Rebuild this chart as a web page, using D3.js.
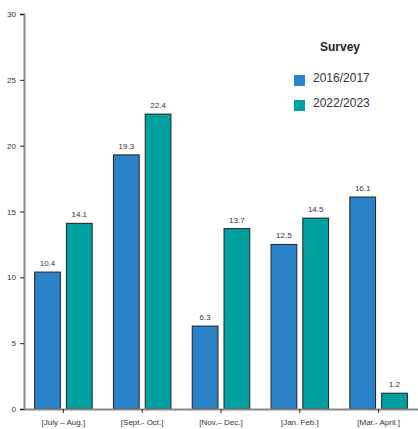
<!DOCTYPE html>
<html><head><meta charset="utf-8">
<script src="https://cdn.jsdelivr.net/npm/d3@7"></script>
<style>body{margin:0;background:#fff}svg{display:block}</style>
</head><body><div id="chart"></div>
<script>
const categories = ["[July – Aug.]", "[Sept.- Oct.]", "[Nov.– Dec.]", "[Jan. Feb.]", "[Mar.- April.]"];
const seriesNames = ["2016/2017", "2022/2023"];
const values2016 = [10.4, 19.3, 6.3, 12.5, 16.1];
const values2023 = [14.1, 22.4, 13.7, 14.5, 1.2];
const yTicks = [0, 5, 10, 15, 20, 25, 30];
const colors = ["#2a82c8", "#00a0a0"];

const W = 418, H = 429;
const m = {left: 24, right: 0, top: 14, bottom: 20};
const svg = d3.select("#chart").append("svg").attr("width", W).attr("height", H);
const x0 = d3.scaleBand().domain(categories).range([m.left, W - m.right]).paddingInner(0.27).paddingOuter(0.135);
const x1 = d3.scaleBand().domain(seriesNames).range([0, x0.bandwidth()]).paddingInner(0.19);
const y = d3.scaleLinear().domain([0, 30]).range([H - m.bottom, m.top]);
const font = "Liberation Sans, Arial, sans-serif";

const series = [values2016, values2023];
const g = svg.append("g");
categories.forEach((c, i) => {
  seriesNames.forEach((s, j) => {
    const v = series[j][i];
    g.append("rect")
      .attr("x", x0(c) + x1(s))
      .attr("y", y(v))
      .attr("width", x1.bandwidth())
      .attr("height", y(0) - y(v))
      .attr("fill", colors[j])
      .attr("stroke", "#222")
      .attr("stroke-width", 1);
    g.append("text")
      .attr("x", x0(c) + x1(s) + x1.bandwidth() / 2)
      .attr("y", y(v) - 6)
      .attr("text-anchor", "middle")
      .attr("font-family", font).attr("font-size", 8).attr("fill", "#333")
      .text(v.toFixed(1));
  });
});

// y axis
const ya = svg.append("g").attr("transform", `translate(${m.left},0)`)
  .call(d3.axisLeft(y).tickValues(yTicks).tickSize(4).tickPadding(4));
ya.select(".domain").attr("stroke", "#888").attr("stroke-width", 2);
ya.selectAll(".tick line").attr("stroke", "#222");
ya.selectAll("text").attr("font-family", font).attr("font-size", 8).attr("fill", "#333");

// x axis
const xa = svg.append("g").attr("transform", `translate(0,${y(0)})`)
  .call(d3.axisBottom(x0).tickSize(4).tickPadding(6).tickSizeOuter(0));
xa.select(".domain").attr("stroke", "#888").attr("stroke-width", 2);
xa.selectAll(".tick line").attr("stroke", "#222");
xa.selectAll("text").attr("font-family", font).attr("font-size", 8).attr("fill", "#333");

// legend
svg.append("text").attr("x", 340).attr("y", 51).attr("text-anchor", "middle")
  .attr("font-family", font).attr("font-size", 12).attr("font-weight", "bold").attr("fill", "#222").text("Survey");
seriesNames.forEach((s, j) => {
  svg.append("rect").attr("x", 294).attr("y", 75 + j * 25).attr("width", 11).attr("height", 11).attr("fill", colors[j]);
  svg.append("text").attr("x", 313).attr("y", 82 + j * 25)
    .attr("font-family", font).attr("font-size", 12).attr("fill", "#333").text(s);
});
</script></body></html>
